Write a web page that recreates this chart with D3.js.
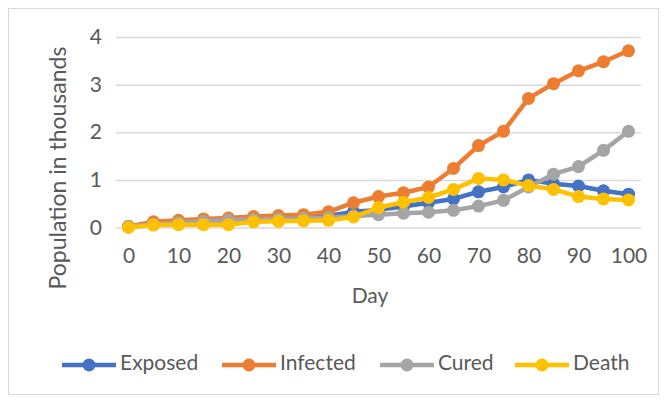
<!DOCTYPE html>
<html><head><meta charset="utf-8">
<script src="https://cdn.jsdelivr.net/npm/d3@7/dist/d3.min.js"></script>
<style>body{margin:0;background:#fff}svg{display:block;font-family:Lato,"Open Sans",sans-serif}</style>
</head><body>
<script>
const days = [0,5,10,15,20,25,30,35,40,45,50,55,60,65,70,75,80,85,90,95,100];
const xTickLabels = [0,10,20,30,40,50,60,70,80,90,100];
const yTicks = [0,1,2,3,4];
const exposed  = [0.02,0.08,0.12,0.15,0.16,0.18,0.20,0.22,0.24,0.33,0.37,0.44,0.52,0.60,0.75,0.85,1.00,0.92,0.87,0.77,0.70];
const infected = [0.02,0.12,0.15,0.18,0.20,0.23,0.25,0.27,0.33,0.52,0.65,0.73,0.85,1.24,1.72,2.02,2.71,3.02,3.29,3.48,3.71];
const cured    = [0.02,0.07,0.10,0.13,0.15,0.17,0.18,0.19,0.21,0.24,0.27,0.30,0.32,0.36,0.45,0.57,0.85,1.12,1.28,1.62,2.02];
const death    = [0.00,0.05,0.06,0.06,0.06,0.12,0.13,0.14,0.15,0.22,0.42,0.53,0.63,0.80,1.03,1.00,0.88,0.80,0.65,0.60,0.58];
const seriesNames = ["Exposed","Infected","Cured","Death"];
const seriesColors = ["#4472C4","#ED7D31","#A5A5A5","#FFC000"];
const seriesData = [exposed, infected, cured, death];

const W = 667, H = 400;
const svg = d3.select("body").append("svg").attr("width", W).attr("height", H);
svg.append("rect").attr("x",8.5).attr("y",8.5).attr("width",650).attr("height",386)
  .attr("fill","#fff").attr("stroke","#d9d9d9");

const plotL = 116, plotR = 641;
const x = d3.scalePoint().domain(days).range([plotL, plotR]).padding(0.5);
const y = d3.scaleLinear().domain([0,4]).range([227.5, 37]);
const textColor = "#595959";

const yAxis = d3.axisLeft(y).tickValues(yTicks).tickFormat(d3.format("d")).tickSize(-(plotR-plotL)).tickPadding(14);
const gy = svg.append("g").attr("transform",`translate(${plotL},0)`).call(yAxis);
gy.select(".domain").remove();
gy.selectAll(".tick line").attr("stroke","#d9d9d9").attr("stroke-width",1.5);
gy.selectAll(".tick text").attr("fill",textColor).attr("font-size",21).attr("font-family","Lato");

const xAxis = d3.axisBottom(x).tickValues(xTickLabels).tickSize(0).tickPadding(0);
const gx = svg.append("g").attr("transform",`translate(0,248)`).call(xAxis);
gx.select(".domain").remove();
gx.selectAll(".tick text").attr("fill",textColor).attr("font-size",21).attr("font-family","Lato");

svg.append("text").attr("x",370).attr("y",298).attr("text-anchor","middle")
  .attr("dominant-baseline","middle").attr("fill",textColor).attr("font-size",21).text("Day");
svg.append("text").attr("transform","translate(60,168) rotate(-90)").attr("text-anchor","middle")
  .attr("dominant-baseline","middle").attr("fill",textColor).attr("font-size",23).text("Population in thousands");

const line = d3.line().x((d,i)=>x(days[i])).y(d=>y(d));
seriesData.forEach((s,k)=>{
  const g = svg.append("g");
  g.append("path").datum(s).attr("d",line).attr("fill","none")
    .attr("stroke",seriesColors[k]).attr("stroke-width",4.5).attr("stroke-linejoin","round").attr("stroke-linecap","round");
  g.selectAll("circle").data(s).join("circle").attr("cx",(d,i)=>x(days[i])).attr("cy",d=>y(d))
    .attr("r",6.5).attr("fill",seriesColors[k]);
});

const legX = [62, 222, 380, 515];
const leg = svg.append("g");
seriesNames.forEach((n,k)=>{
  const g = leg.append("g").attr("transform",`translate(${legX[k]},365)`);
  g.append("line").attr("x1",0).attr("x2",54).attr("y1",0).attr("y2",0)
    .attr("stroke",seriesColors[k]).attr("stroke-width",4.5);
  g.append("circle").attr("cx",27).attr("cy",0).attr("r",6.5).attr("fill",seriesColors[k]);
  g.append("text").attr("x",58).attr("y",0).attr("dominant-baseline","middle")
    .attr("fill",textColor).attr("font-size",21).text(n);
});
</script>
</body></html>
